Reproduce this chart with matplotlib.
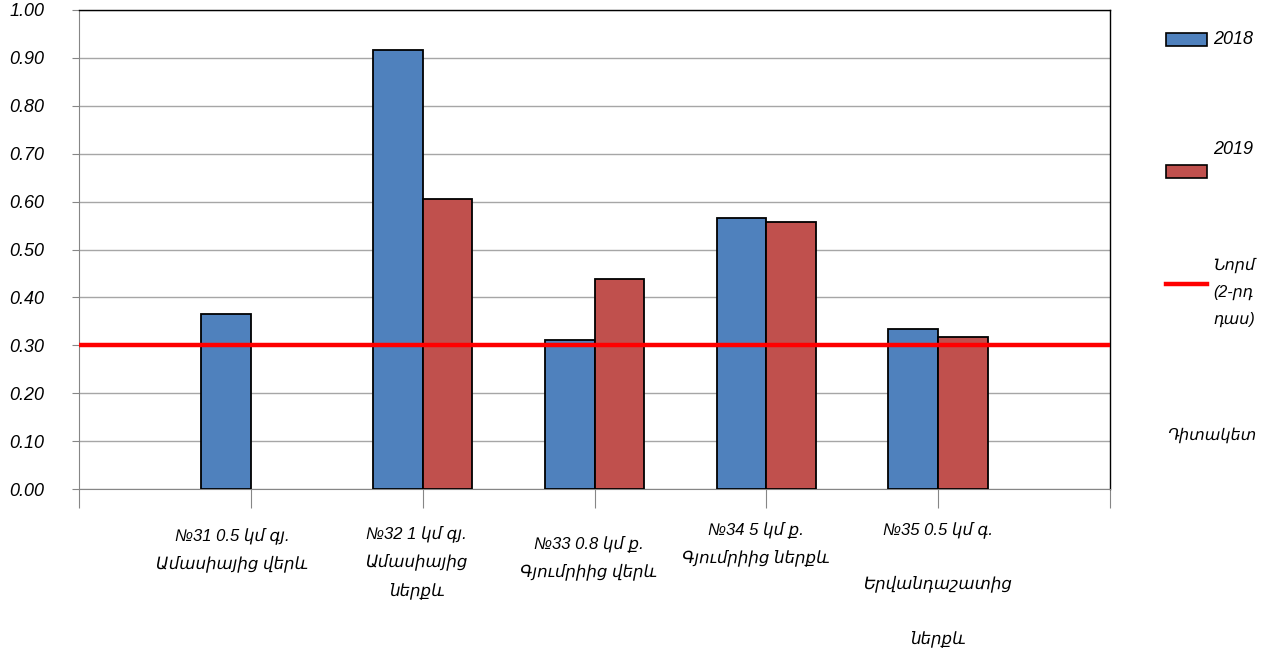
import numpy as np
import matplotlib
matplotlib.use("Agg")
import matplotlib.pyplot as plt
import matplotlib.transforms as mtransforms
from matplotlib.patches import Rectangle
from matplotlib.lines import Line2D

plt.rcParams['font.family'] = ['Liberation Sans', 'DejaVu Sans']
plt.rcParams['font.style'] = 'italic'

# Data
categories = [
    "№31 0.5 կմ գյ.\nԱմասիայից վերև",
    "№32 1 կմ գյ.\nԱմասիայից\nներքև",
    "№33 0.8 կմ ք.\nԳյումրիից վերև",
    "№34 5 կմ ք.\nԳյումրիից ներքև",
    "№35 0.5 կմ գ.\n\nԵրվանդաշատից\n\nներքև",
]
values_2018 = [0.366, 0.917, 0.311, 0.565, 0.334]
values_2019 = [np.nan, 0.605, 0.438, 0.557, 0.318]
norm_value = 0.30
series_names = ["2018", "2019"]
norm_label = "Նորմ\n(2-րդ\nդաս)"
legend_title = "Դիտակետ"
yticks = [0.0, 0.1, 0.2, 0.3, 0.4, 0.5, 0.6, 0.7, 0.8, 0.9, 1.0]

BLUE = "#4F81BD"
RED = "#C0504D"
GRID = "#A6A6A6"
AXIS = "#868686"

W, H = 1267, 661
fig = plt.figure(figsize=(W / 100, H / 100), dpi=100)


def fx(x):
    return x / W


def fy(y):
    return 1 - y / H


ax = fig.add_axes([fx(79), fy(489.3), fx(1110) - fx(79), fy(9.7) - fy(489.3)])

pos = np.arange(1, len(categories) + 1)
bw = 0.29
ax.bar(pos - bw / 2, values_2018, bw, color=BLUE, edgecolor="black", linewidth=1.3, zorder=3)
ax.bar(pos + bw / 2, values_2019, bw, color=RED, edgecolor="black", linewidth=1.3, zorder=3)
ax.axhline(norm_value, color="#FF0000", linewidth=3.2, zorder=4)

ax.set_xlim(0, len(categories) + 1)
ax.set_ylim(0, 1.0)
ax.set_yticks(yticks)
ax.set_yticklabels([f"{v:.2f}" for v in yticks], fontsize=13)
ax.yaxis.grid(True, color=GRID, linewidth=1.0, zorder=0)
ax.set_axisbelow(True)
ax.tick_params(axis="y", length=5, color=AXIS, pad=20)
ax.set_xticks(np.arange(0, len(categories) + 2))
ax.set_xticklabels([])
ax.tick_params(axis="x", length=14, color=AXIS)

for side in ("left", "bottom"):
    ax.spines[side].set_color(AXIS)
for side in ("top", "right"):
    ax.spines[side].set_color("black")
    ax.spines[side].set_linewidth(1.0)

# Category labels below the axis
trans = mtransforms.blended_transform_factory(ax.transData, fig.transFigure)
label_dx = [-0.11, -0.035, -0.035, -0.06, 0.0]
label_top = [527, 525, 535, 521, 521]
for p, lab, dx, top in zip(pos, categories, label_dx, label_top):
    ax.text(p + dx, fy(top), lab, transform=trans, ha="center", va="top",
            fontsize=12, linespacing=1.9, multialignment="center")

# Legend drawn at the right edge
fig.patches.append(Rectangle((fx(1166), fy(46)), fx(41), 13 / H, transform=fig.transFigure,
                             facecolor=BLUE, edgecolor="black", linewidth=1.2))
fig.patches.append(Rectangle((fx(1166), fy(178)), fx(41), 13 / H, transform=fig.transFigure,
                             facecolor=RED, edgecolor="black", linewidth=1.2))
fig.lines.append(Line2D([fx(1166), fx(1207)], [fy(284), fy(284)], transform=fig.transFigure,
                        color="#FF0000", linewidth=3.2))
fig.text(fx(1213), fy(39), series_names[0], fontsize=13, va="center", ha="left")
fig.text(fx(1213), fy(150), series_names[1], fontsize=13, va="center", ha="left")
fig.text(fx(1213), fy(258), norm_label, fontsize=11.5, va="top", ha="left", linespacing=1.95)
fig.text(fx(1167), fy(435), legend_title, fontsize=11.5, va="center", ha="left")

fig.savefig("out.png", dpi=100)
